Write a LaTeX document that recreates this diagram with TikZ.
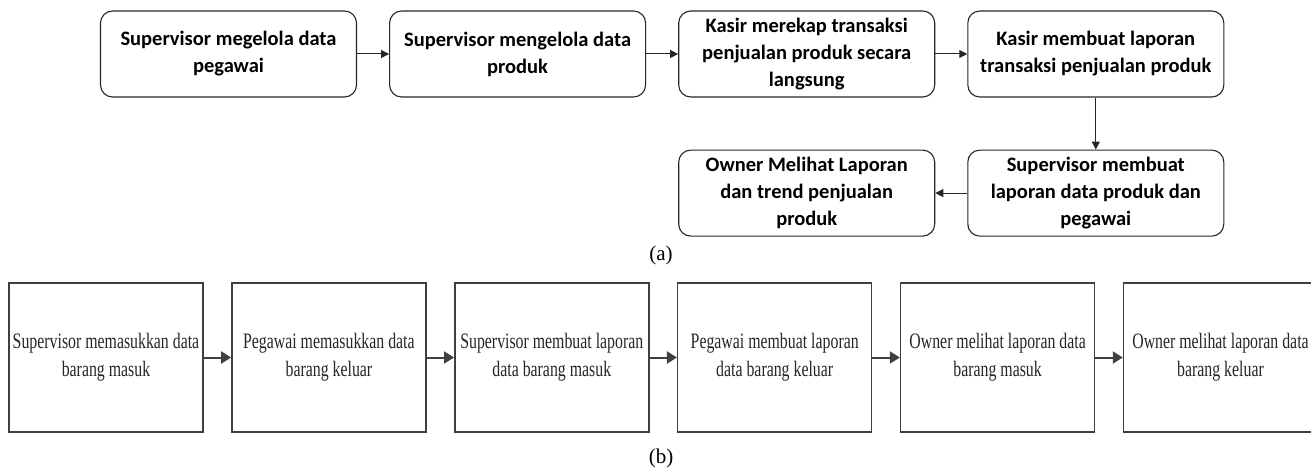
\documentclass[tikz,border=0pt]{standalone}
\usepackage{fontspec}
\setmainfont{Liberation Serif}
\newfontfamily\calib{Carlito}
\newfontfamily\narrowserif[FakeStretch=0.72]{Liberation Serif}
\usetikzlibrary{positioning,arrows.meta}

\tikzset{
  stepbox/.style={draw=black!85, line width=1.1pt, rounded corners=12pt,
    minimum width=256pt, minimum height=86pt, inner sep=0pt, align=center,
    font=\calib\bfseries\fontsize{20.5}{27}\selectfont},
  flowbox/.style={draw=black!75, line width=1.5pt,
    minimum width=194pt, minimum height=149pt, inner sep=0pt, align=center,
    text=black!85, font=\narrowserif\fontsize{22}{28}\selectfont},
  thinarrow/.style={draw=black!85, line width=1pt, -{Triangle[length=8pt,width=8pt]}},
  thickarrow/.style={draw=black!75, line width=2pt, -{Triangle[length=10pt,width=12pt]}},
  caption/.style={font=\fontsize{21}{25}\selectfont}
}

\begin{document}
\begin{tikzpicture}[x=1pt,y=-1pt]
  \useasboundingbox (0,0) rectangle (1311,473);

  % (a)
  \node[stepbox] (pegawai) at (228.5,54) {Supervisor megelola data\\pegawai};
  \node[stepbox, right=32pt of pegawai] (produk) {Supervisor mengelola data\\produk};
  \node[stepbox, right=32pt of produk] (rekap) {Kasir merekap transaksi\\penjualan produk secara\\langsung};
  \node[stepbox, right=32pt of rekap] (laporan) {Kasir membuat laporan\\transaksi penjualan produk};
  \node[stepbox, below=52pt of laporan] (lapsup) {Supervisor membuat\\laporan data produk dan\\pegawai};
  \node[stepbox, left=32pt of lapsup] (owner) {Owner Melihat Laporan\\dan trend penjualan\\produk};

  \draw[thinarrow] (pegawai) -- (produk);
  \draw[thinarrow] (produk) -- (rekap);
  \draw[thinarrow] (rekap) -- (laporan);
  \draw[thinarrow] (laporan) -- (lapsup);
  \draw[thinarrow] (lapsup) -- (owner);

  \node[caption] (capa) at (661,255) {(a)};

  % (b)
  \node[flowbox] (masuk) at (106,357.5) {Supervisor memasukkan data\\barang masuk};
  \node[flowbox, right=27.4pt of masuk] (keluar) {Pegawai memasukkan data\\barang keluar};
  \node[flowbox, right=27.4pt of keluar] (lapmasuk) {Supervisor membuat laporan\\data barang masuk};
  \node[flowbox, right=27.4pt of lapmasuk] (lapkeluar) {Pegawai membuat laporan\\data barang keluar};
  \node[flowbox, right=27.4pt of lapkeluar] (lihatmasuk) {Owner melihat laporan data\\barang masuk};
  \node[flowbox, right=27.4pt of lihatmasuk] (lihatkeluar) {Owner melihat laporan data\\barang keluar};

  \foreach \a/\b in {masuk/keluar, keluar/lapmasuk, lapmasuk/lapkeluar,
                     lapkeluar/lihatmasuk, lihatmasuk/lihatkeluar}
    \draw[thickarrow] (\a) -- (\b);

  \node[caption] (capb) at (661,458) {(b)};
\end{tikzpicture}
\end{document}
